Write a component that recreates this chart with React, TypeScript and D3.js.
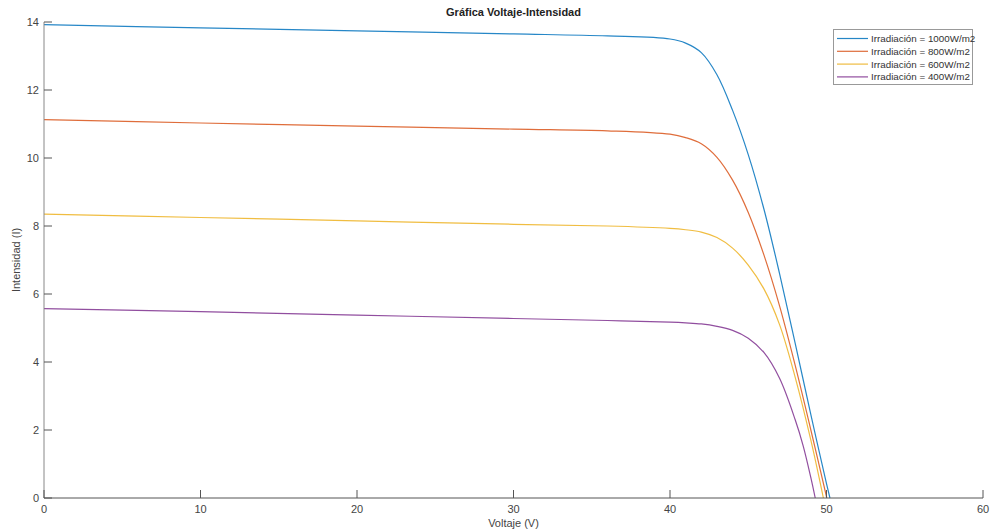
import React from "react";
import * as d3 from "d3";

const W = 992;
const H = 532;

const xTicks = [0, 10, 20, 30, 40, 50, 60];
const yTicks = [0, 2, 4, 6, 8, 10, 12, 14];

const seriesNames = [
  "Irradiación = 1000W/m2",
  "Irradiación = 800W/m2",
  "Irradiación = 600W/m2",
  "Irradiación = 400W/m2",
];
const seriesColors = ["#0072BD", "#D95319", "#EDB120", "#7E2F8E"];

const v1000 = [0, 10, 20, 30, 36, 40, 41, 42, 43, 44, 45, 46, 47, 48, 49, 50, 50.22];
const i1000 = [13.92, 13.83, 13.74, 13.65, 13.59, 13.5, 13.38, 13.1, 12.45, 11.4, 10.1, 8.5, 6.6, 4.55, 2.45, 0.42, 0];

const v800 = [0, 10, 20, 30, 36, 40, 41, 42, 43, 44, 45, 46, 47, 48, 49, 50.02];
const i800 = [11.13, 11.03, 10.94, 10.85, 10.8, 10.7, 10.6, 10.42, 10.02, 9.35, 8.4, 7.15, 5.65, 3.9, 2.0, 0];

const v600 = [0, 10, 20, 30, 36, 40, 41, 42, 43, 44, 45, 46, 47, 48, 49, 49.8];
const i600 = [8.35, 8.25, 8.15, 8.05, 8.0, 7.93, 7.89, 7.82, 7.66, 7.35, 6.85, 6.15, 5.1, 3.55, 1.7, 0];

const v400 = [0, 10, 20, 30, 36, 40, 41, 42, 43, 44, 45, 46, 47, 48, 48.5, 49, 49.28];
const i400 = [5.57, 5.48, 5.38, 5.28, 5.22, 5.17, 5.15, 5.12, 5.05, 4.93, 4.7, 4.28, 3.52, 2.3, 1.55, 0.6, 0];

const voltages = [v1000, v800, v600, v400];
const currents = [i1000, i800, i600, i400];

const FONT = "'Liberation Sans', Arial, Helvetica, sans-serif";

export default function App() {
  const left = 44;
  const right = 983;
  const top = 22;
  const bottom = 498;

  const x = d3.scaleLinear().domain([0, 60]).range([left, right]);
  const y = d3.scaleLinear().domain([0, 14]).range([bottom, top]);

  const line = d3
    .line<[number, number]>()
    .x((d) => x(d[0]))
    .y((d) => y(d[1]))
    .curve(d3.curveCatmullRom.alpha(0.5));

  const series = voltages.map((vs, k) =>
    vs.map((v, j) => [v, currents[k][j]] as [number, number])
  );

  const legX = 833;
  const legY = 29;
  const legW = 139;
  const legH = 55;

  return (
    <svg
      width={W}
      height={H}
      style={{ position: "absolute", left: 0, top: 0, background: "#fff" }}
      fontFamily={FONT}
    >
      <rect x={0} y={0} width={W} height={H} fill="#fff" />
      <text
        x={(left + right) / 2}
        y={16}
        textAnchor="middle"
        fontSize={11}
        fontWeight="bold"
        fill="#222"
      >
        Gráfica Voltaje-Intensidad
      </text>

      {series.map((s, k) => (
        <path
          key={k}
          d={line(s) || ""}
          fill="none"
          stroke={seriesColors[k]}
          strokeWidth={1.2}
          opacity={0.85}
        />
      ))}

      <line x1={left} x2={left} y1={top} y2={bottom} stroke="#888" strokeWidth={1} />
      <line x1={left} x2={right} y1={bottom} y2={bottom} stroke="#555" strokeWidth={1} />

      {yTicks.map((t) => (
        <g key={"y" + t}>
          <line x1={left} x2={left + 8} y1={y(t)} y2={y(t)} stroke="#555" strokeWidth={1} />
          <text
            x={left - 5}
            y={y(t)}
            dy="0.35em"
            textAnchor="end"
            fontSize={11}
            fill="#444"
          >
            {t}
          </text>
        </g>
      ))}
      {xTicks.map((t) => (
        <g key={"x" + t}>
          <line x1={x(t)} x2={x(t)} y1={bottom} y2={bottom - 8} stroke="#555" strokeWidth={1} />
          <text
            x={x(t)}
            y={bottom + 15}
            textAnchor="middle"
            fontSize={11}
            fill="#444"
          >
            {t}
          </text>
        </g>
      ))}

      <text
        x={(left + right) / 2}
        y={527}
        textAnchor="middle"
        fontSize={11}
        fill="#444"
      >
        Voltaje (V)
      </text>
      <text
        transform={`translate(${20},${(top + bottom) / 2}) rotate(-90)`}
        textAnchor="middle"
        fontSize={11}
        fill="#444"
      >
        Intensidad (I)
      </text>

      <rect
        x={legX + 0.5}
        y={legY + 0.5}
        width={legW}
        height={legH}
        fill="#fff"
        stroke="#999"
        strokeWidth={1}
      />
      {seriesNames.map((n, k) => {
        const ly = legY + 9.5 + k * 12.8;
        return (
          <g key={"l" + k}>
            <line
              x1={legX + 4}
              x2={legX + 35}
              y1={ly}
              y2={ly}
              stroke={seriesColors[k]}
              strokeWidth={1.2}
              opacity={0.85}
            />
            <text x={legX + 38} y={ly} dy="0.35em" fontSize={9.8} fill="#333">
              {n}
            </text>
          </g>
        );
      })}
    </svg>
  );
}
